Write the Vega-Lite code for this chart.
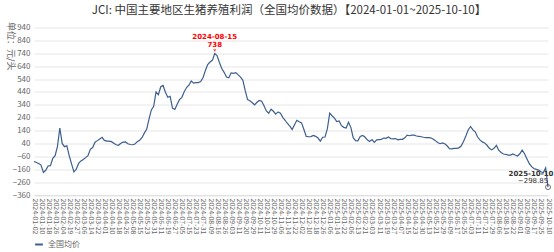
{
  "$schema": "https://vega.github.io/schema/vega-lite/v6.json",
  "width": 514,
  "height": 167.5,
  "autosize": {"type": "none"},
  "padding": {"left": 34, "top": 27.5, "right": 6, "bottom": 57},
  "background": "white",
  "config": {
    "view": {"stroke": null},
    "font": "Noto Sans CJK SC"
  },
  "title": {
    "text": "JCI: 中国主要地区生猪养殖利润（全国均价数据）【2024-01-01~2025-10-10】",
    "fontSize": 11.5,
    "fontWeight": "normal",
    "color": "#333333",
    "anchor": "middle",
    "dx": -2,
    "offset": 5
  },
  "data": {
    "values": [
      {"date": "2024-01-02", "value": -100}, {"date": "2024-01-04", "value": -108}, {"date": "2024-01-08", "value": -116},
      {"date": "2024-01-10", "value": -128}, {"date": "2024-01-12", "value": -185}, {"date": "2024-01-16", "value": -168},
      {"date": "2024-01-18", "value": -135}, {"date": "2024-01-22", "value": -132}, {"date": "2024-01-24", "value": -76},
      {"date": "2024-01-26", "value": -55}, {"date": "2024-01-30", "value": 18}, {"date": "2024-02-01", "value": 160},
      {"date": "2024-02-04", "value": 40}, {"date": "2024-02-06", "value": 15}, {"date": "2024-02-08", "value": 22},
      {"date": "2024-02-19", "value": -55}, {"date": "2024-02-21", "value": -118}, {"date": "2024-02-23", "value": -180},
      {"date": "2024-02-27", "value": -160}, {"date": "2024-02-29", "value": -115}, {"date": "2024-03-04", "value": -95},
      {"date": "2024-03-06", "value": -85}, {"date": "2024-03-08", "value": -70}, {"date": "2024-03-12", "value": -55},
      {"date": "2024-03-14", "value": -5}, {"date": "2024-03-18", "value": 8}, {"date": "2024-03-20", "value": 50},
      {"date": "2024-03-22", "value": 62}, {"date": "2024-03-26", "value": 75}, {"date": "2024-03-28", "value": 88},
      {"date": "2024-04-01", "value": 64}, {"date": "2024-04-03", "value": 58}, {"date": "2024-04-08", "value": 58},
      {"date": "2024-04-10", "value": 54}, {"date": "2024-04-12", "value": 42}, {"date": "2024-04-16", "value": 30},
      {"date": "2024-04-18", "value": 26}, {"date": "2024-04-22", "value": 42}, {"date": "2024-04-24", "value": 50},
      {"date": "2024-04-26", "value": 52}, {"date": "2024-04-29", "value": 38}, {"date": "2024-05-06", "value": 32},
      {"date": "2024-05-08", "value": 30}, {"date": "2024-05-10", "value": 36}, {"date": "2024-05-13", "value": 54},
      {"date": "2024-05-15", "value": 65}, {"date": "2024-05-17", "value": 85}, {"date": "2024-05-21", "value": 120},
      {"date": "2024-05-23", "value": 150}, {"date": "2024-05-27", "value": 228}, {"date": "2024-05-29", "value": 300},
      {"date": "2024-05-31", "value": 328}, {"date": "2024-06-04", "value": 440}, {"date": "2024-06-06", "value": 418},
      {"date": "2024-06-11", "value": 480}, {"date": "2024-06-13", "value": 490}, {"date": "2024-06-17", "value": 438},
      {"date": "2024-06-19", "value": 398}, {"date": "2024-06-21", "value": 405}, {"date": "2024-06-25", "value": 315},
      {"date": "2024-06-27", "value": 304}, {"date": "2024-07-01", "value": 345}, {"date": "2024-07-03", "value": 380},
      {"date": "2024-07-05", "value": 398}, {"date": "2024-07-09", "value": 442}, {"date": "2024-07-11", "value": 474},
      {"date": "2024-07-15", "value": 492}, {"date": "2024-07-17", "value": 525}, {"date": "2024-07-19", "value": 508},
      {"date": "2024-07-23", "value": 512}, {"date": "2024-07-25", "value": 512}, {"date": "2024-07-29", "value": 520},
      {"date": "2024-07-31", "value": 550}, {"date": "2024-08-02", "value": 605}, {"date": "2024-08-06", "value": 652},
      {"date": "2024-08-09", "value": 672}, {"date": "2024-08-13", "value": 685}, {"date": "2024-08-15", "value": 738},
      {"date": "2024-08-16", "value": 722}, {"date": "2024-08-20", "value": 668}, {"date": "2024-08-22", "value": 622},
      {"date": "2024-08-26", "value": 592}, {"date": "2024-08-28", "value": 555}, {"date": "2024-08-30", "value": 550},
      {"date": "2024-09-03", "value": 588}, {"date": "2024-09-05", "value": 584}, {"date": "2024-09-09", "value": 590},
      {"date": "2024-09-11", "value": 572}, {"date": "2024-09-13", "value": 555}, {"date": "2024-09-18", "value": 530},
      {"date": "2024-09-20", "value": 450}, {"date": "2024-09-24", "value": 380}, {"date": "2024-09-26", "value": 372},
      {"date": "2024-09-29", "value": 356}, {"date": "2024-10-08", "value": 340}, {"date": "2024-10-09", "value": 360},
      {"date": "2024-10-11", "value": 374}, {"date": "2024-10-15", "value": 368}, {"date": "2024-10-17", "value": 332},
      {"date": "2024-10-21", "value": 292}, {"date": "2024-10-23", "value": 275}, {"date": "2024-10-25", "value": 306},
      {"date": "2024-10-29", "value": 290}, {"date": "2024-10-31", "value": 268}, {"date": "2024-11-04", "value": 285},
      {"date": "2024-11-06", "value": 275}, {"date": "2024-11-08", "value": 243}, {"date": "2024-11-12", "value": 220},
      {"date": "2024-11-14", "value": 195}, {"date": "2024-11-18", "value": 175}, {"date": "2024-11-20", "value": 148},
      {"date": "2024-11-22", "value": 185}, {"date": "2024-11-26", "value": 220}, {"date": "2024-11-28", "value": 209},
      {"date": "2024-12-02", "value": 200}, {"date": "2024-12-04", "value": 148}, {"date": "2024-12-06", "value": 95},
      {"date": "2024-12-10", "value": 92}, {"date": "2024-12-12", "value": 93}, {"date": "2024-12-16", "value": 102},
      {"date": "2024-12-18", "value": 95}, {"date": "2024-12-20", "value": 82}, {"date": "2024-12-24", "value": 58},
      {"date": "2024-12-26", "value": 88}, {"date": "2024-12-30", "value": 90}, {"date": "2025-01-02", "value": 155},
      {"date": "2025-01-06", "value": 275}, {"date": "2025-01-08", "value": 255}, {"date": "2025-01-10", "value": 236},
      {"date": "2025-01-14", "value": 210}, {"date": "2025-01-16", "value": 215}, {"date": "2025-01-20", "value": 178},
      {"date": "2025-01-22", "value": 165}, {"date": "2025-01-24", "value": 160}, {"date": "2025-02-04", "value": 205},
      {"date": "2025-02-06", "value": 165}, {"date": "2025-02-10", "value": 85}, {"date": "2025-02-11", "value": 62},
      {"date": "2025-02-13", "value": 60}, {"date": "2025-02-17", "value": 95}, {"date": "2025-02-19", "value": 102},
      {"date": "2025-02-21", "value": 90}, {"date": "2025-02-25", "value": 68}, {"date": "2025-02-27", "value": 56},
      {"date": "2025-03-03", "value": 70}, {"date": "2025-03-05", "value": 48}, {"date": "2025-03-07", "value": 68},
      {"date": "2025-03-11", "value": 70}, {"date": "2025-03-13", "value": 72}, {"date": "2025-03-17", "value": 82},
      {"date": "2025-03-19", "value": 80}, {"date": "2025-03-21", "value": 90}, {"date": "2025-03-25", "value": 78},
      {"date": "2025-03-27", "value": 76}, {"date": "2025-03-31", "value": 78}, {"date": "2025-04-02", "value": 68},
      {"date": "2025-04-07", "value": 72}, {"date": "2025-04-09", "value": 72}, {"date": "2025-04-11", "value": 84},
      {"date": "2025-04-15", "value": 105}, {"date": "2025-04-17", "value": 100}, {"date": "2025-04-21", "value": 104},
      {"date": "2025-04-23", "value": 105}, {"date": "2025-04-25", "value": 98}, {"date": "2025-04-28", "value": 95},
      {"date": "2025-04-30", "value": 92}, {"date": "2025-05-07", "value": 88}, {"date": "2025-05-09", "value": 86},
      {"date": "2025-05-13", "value": 85}, {"date": "2025-05-15", "value": 84}, {"date": "2025-05-19", "value": 74},
      {"date": "2025-05-21", "value": 62}, {"date": "2025-05-23", "value": 48}, {"date": "2025-05-27", "value": 38},
      {"date": "2025-05-29", "value": 44}, {"date": "2025-06-03", "value": 38}, {"date": "2025-06-05", "value": 22},
      {"date": "2025-06-09", "value": 0}, {"date": "2025-06-11", "value": -2}, {"date": "2025-06-13", "value": 2},
      {"date": "2025-06-17", "value": 2}, {"date": "2025-06-19", "value": 6}, {"date": "2025-06-23", "value": 20},
      {"date": "2025-06-25", "value": 55}, {"date": "2025-06-27", "value": 98}, {"date": "2025-07-01", "value": 145},
      {"date": "2025-07-03", "value": 172}, {"date": "2025-07-07", "value": 145}, {"date": "2025-07-09", "value": 130},
      {"date": "2025-07-11", "value": 90}, {"date": "2025-07-15", "value": 68}, {"date": "2025-07-17", "value": 52},
      {"date": "2025-07-21", "value": 44}, {"date": "2025-07-23", "value": 26}, {"date": "2025-07-25", "value": 2},
      {"date": "2025-07-29", "value": -10}, {"date": "2025-07-31", "value": 2}, {"date": "2025-08-04", "value": 25},
      {"date": "2025-08-06", "value": -12}, {"date": "2025-08-08", "value": -30}, {"date": "2025-08-12", "value": -42},
      {"date": "2025-08-14", "value": -44}, {"date": "2025-08-18", "value": -50}, {"date": "2025-08-20", "value": -50},
      {"date": "2025-08-22", "value": -42}, {"date": "2025-08-26", "value": -50}, {"date": "2025-08-28", "value": -57},
      {"date": "2025-09-01", "value": -40}, {"date": "2025-09-03", "value": -12}, {"date": "2025-09-05", "value": -40},
      {"date": "2025-09-09", "value": -78}, {"date": "2025-09-11", "value": -115}, {"date": "2025-09-15", "value": -140},
      {"date": "2025-09-17", "value": -155}, {"date": "2025-09-19", "value": -161}, {"date": "2025-09-23", "value": -167},
      {"date": "2025-09-25", "value": -180}, {"date": "2025-09-29", "value": -188}, {"date": "2025-10-09", "value": -150},
      {"date": "2025-10-10", "value": -298.85}
    ]
  },
  "encoding": {
    "x": {
      "field": "date",
      "type": "ordinal",
      "scale": {"type": "point", "padding": 0},
      "axis": {
        "title": null,
        "values": ["2024-01-02","2024-01-10","2024-01-18","2024-01-26","2024-02-04","2024-02-19","2024-02-27","2024-03-06","2024-03-14","2024-03-22","2024-04-01","2024-04-10","2024-04-18","2024-04-26","2024-05-08","2024-05-15","2024-05-23","2024-05-31","2024-06-11","2024-06-19","2024-06-27","2024-07-05","2024-07-15","2024-07-23","2024-07-31","2024-08-09","2024-08-16","2024-08-26","2024-09-03","2024-09-11","2024-09-20","2024-09-29","2024-10-11","2024-10-21","2024-10-29","2024-11-06","2024-11-14","2024-11-22","2024-12-02","2024-12-10","2024-12-18","2024-12-26","2025-01-06","2025-01-14","2025-01-22","2025-02-06","2025-02-13","2025-02-21","2025-03-03","2025-03-11","2025-03-19","2025-03-27","2025-04-07","2025-04-15","2025-04-23","2025-04-30","2025-05-13","2025-05-21","2025-05-29","2025-06-09","2025-06-17","2025-06-25","2025-07-03","2025-07-11","2025-07-21","2025-07-29","2025-08-06","2025-08-14","2025-08-22","2025-09-01","2025-09-09","2025-09-17","2025-09-25","2025-10-10"],
        "labelAngle": 90,
        "labelFontSize": 7,
        "labelColor": "#666666",
        "labelOverlap": false,
        "labelPadding": 3,
        "ticks": false,
        "domain": true,
        "domainColor": "#e0e0e0",
        "grid": false
      }
    },
    "y": {
      "field": "value",
      "type": "quantitative",
      "scale": {"domain": [-360, 940], "nice": false, "zero": false},
      "axis": {
        "title": "单位：元/头",
        "titleAngle": 90,
        "titleAlign": "left",
        "titleBaseline": "middle",
        "titleX": -24,
        "titleY": -6,
        "titleFontSize": 9,
        "titleFontWeight": "normal",
        "titleColor": "#666666",
        "values": [-360,-260,-160,-60,40,140,240,340,440,540,640,740,840,940],
        "labelFontSize": 8,
        "labelColor": "#666666",
        "labelPadding": 4,
        "ticks": false,
        "domain": false,
        "grid": true,
        "gridColor": "#e6e6e6",
        "gridWidth": 1
      }
    }
  },
  "layer": [
    {
      "mark": {"type": "line", "strokeWidth": 1.2, "interpolate": "linear"},
      "encoding": {
        "color": {
          "datum": "全国均价",
          "type": "nominal",
          "scale": {"range": ["#3d5f8f"]},
          "legend": {
            "title": null,
            "orient": "bottom",
            "symbolType": "stroke",
            "symbolStrokeWidth": 2,
            "symbolSize": 60,
            "labelFontSize": 8,
            "labelColor": "#666666",
            "offset": 5
          }
        }
      }
    },
    {
      "transform": [{"filter": "datum.date == '2024-08-15'"}],
      "mark": {"type": "point", "shape": "triangle-down", "filled": true, "color": "#ff0000", "size": 10, "yOffset": -3}
    },
    {
      "transform": [{"filter": "datum.date == '2024-08-15'"}],
      "mark": {"type": "text", "color": "#ff0000", "fontSize": 7, "fontWeight": "bold", "dy": -17, "font": "DejaVu Sans"},
      "encoding": {"text": {"field": "date"}}
    },
    {
      "transform": [{"filter": "datum.date == '2024-08-15'"}],
      "mark": {"type": "text", "color": "#ff0000", "fontSize": 7, "fontWeight": "bold", "dy": -9, "font": "DejaVu Sans"},
      "encoding": {"text": {"field": "value", "format": ".0f"}}
    },
    {
      "transform": [{"filter": "datum.date == '2025-10-10'"}],
      "mark": {"type": "point", "shape": "circle", "filled": false, "color": "#333333", "size": 25, "strokeWidth": 1}
    },
    {
      "transform": [{"filter": "datum.date == '2025-10-10'"}],
      "mark": {"type": "text", "color": "#333333", "fontSize": 7, "fontWeight": "bold", "dx": -17, "dy": -13, "font": "DejaVu Sans"},
      "encoding": {"text": {"field": "date"}}
    },
    {
      "transform": [{"filter": "datum.date == '2025-10-10'"}],
      "mark": {"type": "text", "color": "#333333", "fontSize": 7, "dx": -15, "dy": -6, "font": "DejaVu Sans"},
      "encoding": {"text": {"field": "value", "format": ".2f"}}
    }
  ]
}
